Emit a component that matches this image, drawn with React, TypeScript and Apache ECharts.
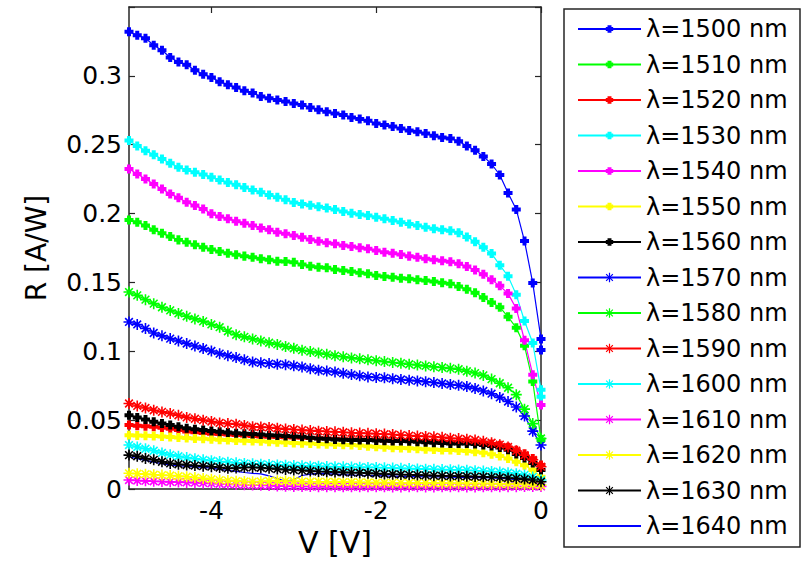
import React, { useEffect, useRef } from "react";
import * as echarts from "echarts";

const voltages = [
  -5.0, -4.9, -4.8, -4.7, -4.6, -4.5, -4.4, -4.3, -4.2, -4.1,
  -4.0, -3.9, -3.8, -3.7, -3.6, -3.5, -3.4, -3.3, -3.2, -3.1,
  -3.0, -2.9, -2.8, -2.7, -2.6, -2.5, -2.4, -2.3, -2.2, -2.1,
  -2.0, -1.9, -1.8, -1.7, -1.6, -1.5, -1.4, -1.3, -1.2, -1.1,
  -1.0, -0.9, -0.8, -0.7, -0.6, -0.5, -0.4, -0.3, -0.2, -0.1,
  0.0,
];

const r1500 = [
  0.332, 0.3295, 0.3273, 0.3222, 0.3186, 0.3133, 0.3101, 0.308, 0.3041, 0.3012,
  0.2988, 0.2957, 0.2935, 0.2915, 0.2891, 0.2875, 0.285, 0.2838, 0.2824, 0.2814,
  0.2799, 0.2788, 0.277, 0.2754, 0.2739, 0.2727, 0.2715, 0.2698, 0.2686, 0.2674,
  0.2654, 0.2643, 0.2633, 0.2618, 0.2604, 0.2594, 0.2582, 0.2565, 0.2553, 0.2545,
  0.2525, 0.249, 0.246, 0.2415, 0.236, 0.228, 0.215, 0.203, 0.18, 0.1495,
  0.109, 0.101,
];
const r1510 = [
  0.1954, 0.1937, 0.1913, 0.1882, 0.1857, 0.1833, 0.1809, 0.1792, 0.1773, 0.1756,
  0.1739, 0.1725, 0.1712, 0.1701, 0.1691, 0.1683, 0.1672, 0.1664, 0.1654, 0.1652,
  0.1647, 0.163, 0.1618, 0.1611, 0.1606, 0.1594, 0.1587, 0.158, 0.157, 0.1563,
  0.155, 0.1543, 0.1538, 0.1531, 0.1527, 0.152, 0.1514, 0.1507, 0.1497, 0.149,
  0.147, 0.145, 0.1425, 0.139, 0.1355, 0.132, 0.125, 0.117, 0.104, 0.078,
  0.036,
];
const r1520 = [
  0.0464, 0.046, 0.0456, 0.0452, 0.0445, 0.0438, 0.0428, 0.0418, 0.0412, 0.0406,
  0.0402, 0.0399, 0.0396, 0.0392, 0.0388, 0.0384, 0.0382, 0.0379, 0.0377, 0.0375,
  0.0374, 0.0372, 0.037, 0.0368, 0.0366, 0.0364, 0.0362, 0.036, 0.0359, 0.0357,
  0.0355, 0.0353, 0.0351, 0.035, 0.0349, 0.0348, 0.0347, 0.0346, 0.0344, 0.0343,
  0.0342, 0.034, 0.0337, 0.0333, 0.0326, 0.0318, 0.0304, 0.0282, 0.0256, 0.0222,
  0.0174,
];
const r1530 = [
  0.253, 0.249, 0.2457, 0.2428, 0.2396, 0.2365, 0.2336, 0.2317, 0.23, 0.2283,
  0.2263, 0.2244, 0.2225, 0.221, 0.219, 0.2172, 0.2154, 0.2135, 0.2118, 0.21,
  0.208, 0.207, 0.206, 0.205, 0.204, 0.2029, 0.2015, 0.2002, 0.1994, 0.1986,
  0.1974, 0.1962, 0.195, 0.1937, 0.1925, 0.1913, 0.19, 0.1889, 0.1882, 0.1875,
  0.186, 0.183, 0.1795, 0.1755, 0.171, 0.1625, 0.1545, 0.141, 0.122, 0.106,
  0.072, 0.067,
];
const r1540 = [
  0.2324, 0.2288, 0.2251, 0.2215, 0.2179, 0.2143, 0.2114, 0.2082, 0.2058, 0.2034,
  0.1998, 0.1978, 0.1962, 0.1944, 0.193, 0.1913, 0.1896, 0.1882, 0.1865, 0.1853,
  0.184, 0.1828, 0.1812, 0.1799, 0.1788, 0.178, 0.1768, 0.1761, 0.1751, 0.1744,
  0.1732, 0.172, 0.1712, 0.1703, 0.1691, 0.1683, 0.1672, 0.1664, 0.1657, 0.165,
  0.1635, 0.1615, 0.159, 0.156, 0.152, 0.1475, 0.142, 0.131, 0.108, 0.083,
  0.061,
];
const r1550 = [
  0.0391, 0.0389, 0.0387, 0.0384, 0.0381, 0.0378, 0.0374, 0.037, 0.0367, 0.0364,
  0.0361, 0.0357, 0.0355, 0.0352, 0.035, 0.0348, 0.0346, 0.0343, 0.034, 0.0337,
  0.0334, 0.0332, 0.033, 0.0327, 0.0325, 0.0323, 0.0321, 0.0319, 0.0316, 0.0311,
  0.0307, 0.0303, 0.0299, 0.0297, 0.0295, 0.0292, 0.0289, 0.0286, 0.0284, 0.0283,
  0.028, 0.0276, 0.0271, 0.0263, 0.0252, 0.024, 0.0222, 0.0198, 0.0172, 0.0138,
  0.0089,
];
const r1560 = [
  0.0536, 0.052, 0.0504, 0.0488, 0.0476, 0.0464, 0.0452, 0.0441, 0.0434, 0.0428,
  0.0422, 0.0415, 0.041, 0.0404, 0.0402, 0.0399, 0.0395, 0.0391, 0.0388, 0.0384,
  0.0382, 0.0379, 0.0373, 0.0367, 0.0364, 0.036, 0.0358, 0.0355, 0.0355, 0.0355,
  0.0352, 0.035, 0.0349, 0.0348, 0.0346, 0.0343, 0.034, 0.0336, 0.0334, 0.0331,
  0.0331, 0.0331, 0.0326, 0.0319, 0.0313, 0.0302, 0.0285, 0.0255, 0.0225, 0.0188,
  0.0138,
];
const r1570 = [
  0.1213, 0.1195, 0.1165, 0.1133, 0.1112, 0.1092, 0.1075, 0.1056, 0.1038, 0.102,
  0.1002, 0.0983, 0.0968, 0.0954, 0.0938, 0.0922, 0.0916, 0.0911, 0.0906, 0.0903,
  0.0895, 0.0886, 0.0874, 0.0862, 0.0856, 0.085, 0.084, 0.0831, 0.0822, 0.0814,
  0.081, 0.0807, 0.0801, 0.0795, 0.079, 0.0785, 0.0779, 0.0773, 0.0766, 0.0759,
  0.0753, 0.0744, 0.073, 0.0712, 0.0692, 0.0665, 0.0635, 0.0595, 0.053, 0.042,
  0.032,
];
const r1580 = [
  0.143, 0.1406, 0.1375, 0.1346, 0.132, 0.1297, 0.1275, 0.1254, 0.1235, 0.1217,
  0.1195, 0.1175, 0.1145, 0.112, 0.1105, 0.109, 0.1075, 0.1062, 0.105, 0.1035,
  0.1022, 0.1008, 0.0998, 0.0988, 0.0978, 0.0968, 0.096, 0.0952, 0.0945, 0.0938,
  0.0932, 0.0925, 0.0919, 0.0913, 0.0906, 0.09, 0.0894, 0.0887, 0.0882, 0.0876,
  0.087, 0.0855, 0.0842, 0.0825, 0.0798, 0.0768, 0.0735, 0.0685, 0.058, 0.0475,
  0.0367,
];
const r1590 = [
  0.0621, 0.0603, 0.0588, 0.0572, 0.056, 0.0549, 0.0535, 0.052, 0.051, 0.05,
  0.049, 0.048, 0.0475, 0.0471, 0.0462, 0.0452, 0.045, 0.0447, 0.0441, 0.0435,
  0.0432, 0.0428, 0.0424, 0.042, 0.0418, 0.0415, 0.0412, 0.0408, 0.0406, 0.0404,
  0.0401, 0.0399, 0.0396, 0.0391, 0.0388, 0.0384, 0.0382, 0.0379, 0.0375, 0.0369,
  0.0366, 0.0361, 0.0356, 0.0346, 0.0336, 0.0322, 0.0305, 0.0278, 0.0245, 0.0212,
  0.0162,
];
const r1600 = [
  0.0319, 0.0305, 0.0292, 0.0278, 0.0262, 0.0248, 0.0238, 0.0228, 0.022, 0.0212,
  0.0205, 0.02, 0.0195, 0.019, 0.0186, 0.0183, 0.018, 0.0177, 0.0175, 0.0172,
  0.017, 0.0168, 0.0166, 0.0165, 0.0163, 0.0162, 0.0161, 0.0159, 0.0158, 0.0157,
  0.0156, 0.0154, 0.0152, 0.015, 0.0148, 0.0146, 0.0144, 0.0143, 0.0141, 0.014,
  0.0138, 0.0136, 0.0133, 0.013, 0.0127, 0.0124, 0.0118, 0.0111, 0.0102, 0.0088,
  0.0065,
];
const r1610 = [
  0.0065, 0.0062, 0.0059, 0.0056, 0.0054, 0.0052, 0.005, 0.0048, 0.0046, 0.0044,
  0.0041, 0.0038, 0.0036, 0.0033, 0.0031, 0.0029, 0.0027, 0.0025, 0.0022, 0.002,
  0.0019, 0.0018, 0.0018, 0.0017, 0.0017, 0.0017, 0.0016, 0.0016, 0.0016, 0.0016,
  0.0016, 0.0016, 0.0015, 0.0015, 0.0016, 0.0016, 0.0015, 0.0015, 0.0016, 0.0016,
  0.0016, 0.0015, 0.0015, 0.0016, 0.0016, 0.0016, 0.0017, 0.0017, 0.0018, 0.0018,
  0.0019,
];
const r1620 = [
  0.0114, 0.0111, 0.0108, 0.0104, 0.0101, 0.0098, 0.0094, 0.0089, 0.0083, 0.0077,
  0.0071, 0.0065, 0.0061, 0.0057, 0.0055, 0.0053, 0.0055, 0.0058, 0.006, 0.0058,
  0.0056, 0.0054, 0.0053, 0.0053, 0.0052, 0.0051, 0.005, 0.0049, 0.0048, 0.0047,
  0.0046, 0.0046, 0.0045, 0.0045, 0.0044, 0.0044, 0.0043, 0.0043, 0.0042, 0.0042,
  0.0041, 0.0041, 0.004, 0.004, 0.0039, 0.0038, 0.0037, 0.0036, 0.0034, 0.0032,
  0.0029,
];
const r1630 = [
  0.0246, 0.0238, 0.0222, 0.0212, 0.0198, 0.0186, 0.018, 0.0174, 0.017, 0.0166,
  0.0162, 0.0156, 0.015, 0.0152, 0.0156, 0.0157, 0.0154, 0.015, 0.0145, 0.0141,
  0.0138, 0.0135, 0.0131, 0.0127, 0.0125, 0.0123, 0.0121, 0.0119, 0.0118, 0.0115,
  0.0112, 0.0109, 0.0107, 0.0105, 0.0103, 0.0101, 0.0099, 0.0097, 0.0095, 0.0094,
  0.0093, 0.0092, 0.009, 0.0089, 0.0086, 0.0084, 0.008, 0.0077, 0.0072, 0.0065,
  0.0053,
];
const r1640 = [
  0.0234, 0.022, 0.0208, 0.0195, 0.0184, 0.0174, 0.017, 0.0165, 0.016, 0.0157,
  0.0152, 0.0142, 0.0135, 0.0128, 0.012, 0.0114, 0.011, 0.0095, 0.0075, 0.0055,
  0.0068, 0.0098, 0.0108, 0.0114, 0.0112, 0.0108, 0.0104, 0.0101, 0.01, 0.0098,
  0.0097, 0.0096, 0.0094, 0.0092, 0.0091, 0.009, 0.0089, 0.0088, 0.0087, 0.0086,
  0.0085, 0.0084, 0.0083, 0.0082, 0.008, 0.0077, 0.0073, 0.0068, 0.0064, 0.0057,
  0.0046,
];

const seriesNames = [
  "λ=1500 nm", "λ=1510 nm", "λ=1520 nm", "λ=1530 nm", "λ=1540 nm",
  "λ=1550 nm", "λ=1560 nm", "λ=1570 nm", "λ=1580 nm", "λ=1590 nm",
  "λ=1600 nm", "λ=1610 nm", "λ=1620 nm", "λ=1630 nm", "λ=1640 nm",
];
const seriesValues = [
  r1500, r1510, r1520, r1530, r1540, r1550, r1560,
  r1570, r1580, r1590, r1600, r1610, r1620, r1630, r1640,
];
const seriesColors = [
  "#0000ff", "#00ff00", "#ff0000", "#00ffff", "#ff00ff", "#ffff00", "#000000",
  "#0000ff", "#00ff00", "#ff0000", "#00ffff", "#ff00ff", "#ffff00", "#000000",
  "#0000ff",
];
const markerKinds = [
  "dot", "dot", "dot", "dot", "dot", "dot", "dot",
  "star", "star", "star", "star", "star", "star", "star",
  "none",
];
const xTickValues = [-4, -2, 0];

const FONT = "DejaVu Sans";
const AXIS_COLOR = "#262626";
// plus-shaped dot with invisible corner points so the visible part is smaller than the box
const DOT_PATH =
  "path://M-7,-7L-7,-7M7,7L7,7M-2,-4.5H2V-2H4.5V2H2V4.5H-2V2H-4.5V-2H-2Z";
const STAR_PATH = "path://M0,-6V6M-6,0H6M-4.2,-4.2L4.2,4.2M-4.2,4.2L4.2,-4.2";

export default function App() {
  const ref = useRef<HTMLDivElement>(null);

  useEffect(() => {
    if (!ref.current) return;
    const chart = echarts.init(ref.current, undefined, { renderer: "svg" });

    const series = seriesValues.map((vals, si) => {
      const kind = markerKinds[si];
      const color = seriesColors[si];
      return {
        type: "line",
        name: seriesNames[si],
        data: vals.map((y, i) => [voltages[Math.min(i, voltages.length - 1)], y]),
        symbol: kind === "dot" ? DOT_PATH : kind === "star" ? STAR_PATH : "none",
        symbolSize: kind === "dot" ? 14 : 11,
        showSymbol: kind !== "none",
        lineStyle: { color, width: 1.2 },
        itemStyle: {
          color,
          borderColor: color,
          borderWidth: kind === "star" ? 1.6 : 0,
        },
        emphasis: { disabled: true },
        silent: true,
      };
    });

    const tickStyle = { color: AXIS_COLOR, width: 1.2 };
    const lineStyle = { color: AXIS_COLOR, width: 1.5 };

    chart.setOption({
      animation: false,
      backgroundColor: "#ffffff",
      grid: { left: 129, right: 263, top: 7, bottom: 76, containLabel: false },
      xAxis: [
        {
          type: "value",
          min: -5,
          max: 0,
          position: "bottom",
          axisLine: { show: true, onZero: false, lineStyle },
          axisTick: { show: true, inside: true, length: 6, customValues: xTickValues, lineStyle: tickStyle },
          axisLabel: {
            show: true,
            customValues: xTickValues,
            fontSize: 25,
            fontFamily: FONT,
            color: "#000",
            margin: 9,
          },
          splitLine: { show: false },
          name: "V [V]",
          nameLocation: "middle",
          nameGap: 37,
          nameTextStyle: { fontSize: 30, fontFamily: FONT, color: "#000" },
        },
        {
          type: "value",
          min: -5,
          max: 0,
          position: "top",
          axisLine: { show: true, onZero: false, lineStyle },
          axisTick: { show: true, inside: true, length: 6, customValues: xTickValues, lineStyle: tickStyle },
          axisLabel: { show: false },
          splitLine: { show: false },
        },
      ],
      yAxis: [
        {
          type: "value",
          min: 0,
          max: 0.35,
          interval: 0.05,
          position: "left",
          axisLine: { show: true, onZero: false, lineStyle },
          axisTick: { show: true, inside: true, length: 6, lineStyle: tickStyle },
          axisLabel: {
            fontSize: 25,
            fontFamily: FONT,
            color: "#000",
            margin: 7,
            formatter: (v: number) => (v > 0.34 ? "" : String(+v.toFixed(2))),
          },
          splitLine: { show: false },
          name: "R [A/W]",
          nameLocation: "middle",
          nameGap: 79,
          nameRotate: 90,
          nameTextStyle: { fontSize: 28, fontFamily: FONT, color: "#000" },
        },
        {
          type: "value",
          min: 0,
          max: 0.35,
          interval: 0.05,
          position: "right",
          axisLine: { show: true, onZero: false, lineStyle },
          axisTick: { show: true, inside: true, length: 6, lineStyle: tickStyle },
          axisLabel: { show: false },
          splitLine: { show: false },
        },
      ],
      legend: {
        orient: "vertical",
        left: 577,
        top: 17,
        padding: 0,
        itemWidth: 63,
        itemHeight: 12,
        itemGap: 11.5,
        selectedMode: false,
        itemStyle: { borderWidth: 1.2 },
        textStyle: { fontSize: 24, fontFamily: FONT, color: "#000", lineHeight: 24 },
        data: seriesNames.map((n, i) =>
          markerKinds[i] === "none" ? { name: n, itemStyle: { opacity: 0 } } : { name: n }
        ),
      },
      graphic: [
        {
          type: "rect",
          shape: { x: 564, y: 9, width: 236, height: 538 },
          style: { fill: "none", stroke: AXIS_COLOR, lineWidth: 1.5 },
          silent: true,
          z: -1,
        },
      ],
      series,
    });

    return () => chart.dispose();
  }, []);

  return (
    <div
      ref={ref}
      style={{ position: "fixed", left: 0, top: 0, width: 804, height: 565, background: "#fff" }}
    />
  );
}
